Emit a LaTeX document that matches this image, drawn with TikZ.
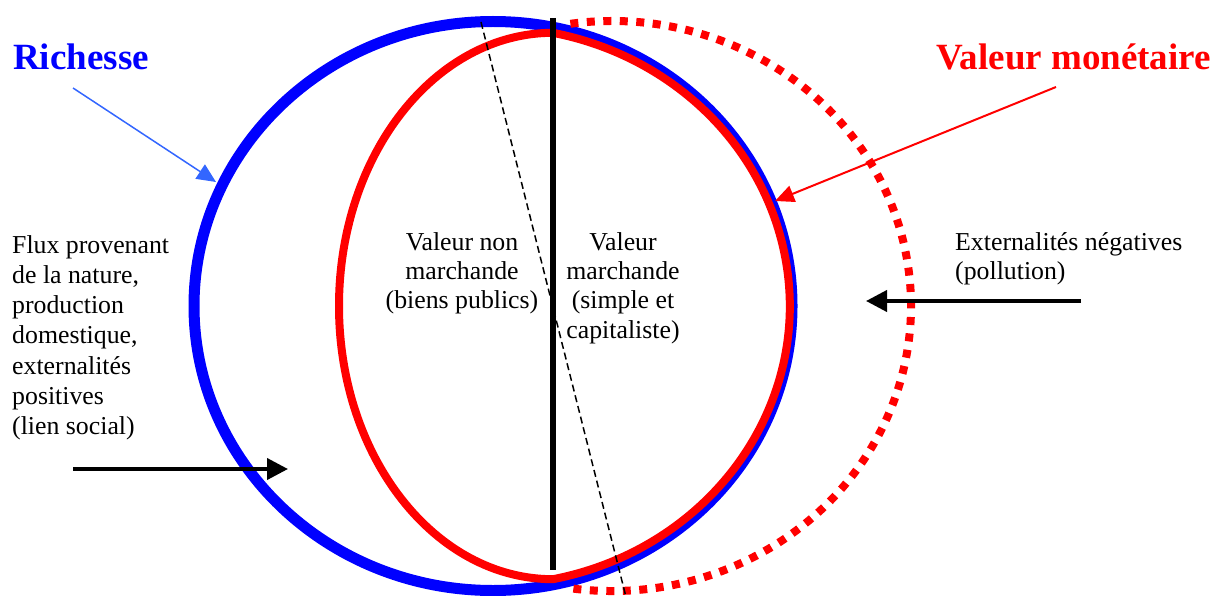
\documentclass[tikz,border=0pt]{standalone}
\usepackage{fontspec}
\setmainfont{Liberation Serif}
\usetikzlibrary{arrows.meta}
\definecolor{richblue}{HTML}{0000FF}
\definecolor{arrowblue}{HTML}{3366FF}
\definecolor{monred}{HTML}{FF0000}
\begin{document}
\begin{tikzpicture}[x=1pt,y=-1pt,
  bodyl/.style={font=\fontsize{25.8}{30.3}\selectfont, inner sep=0pt},
  bodyc/.style={font=\fontsize{25.8}{29.4}\selectfont, inner sep=0pt},
  titletext/.style={font=\fontsize{37}{44}\selectfont\bfseries, inner sep=0pt},
  thickarrow/.style={line width=4pt, -{Triangle[length=21pt,width=21pt]}},
]
\useasboundingbox (0,0) rectangle (1217,596);
% blue ellipse (Richesse)
\draw[richblue, line width=11pt] (493,306) ellipse [x radius=299, y radius=284.5];
% red dotted arc
\coordinate (dotstart) at (570.4,23.8);
\draw[monred, line width=8pt, dash pattern=on 8pt off 8.5pt]
  (dotstart) arc[start angle=262, end angle=458, x radius=299, y radius=285];
% red solid shape (valeur monetaire)
\coordinate (redtop) at (553,32.8);
\draw[monred, line width=8pt, line join=round]
  (redtop) arc[start angle=270, end angle=90, x radius=214, y radius=273.2]
  arc[start angle=78.3, end angle=-78.3, x radius=297, y radius=279] -- cycle;
% black vertical line
\coordinate (vtop) at (553,18);
\coordinate (vbot) at (553,570);
\draw[line width=5.5pt] (vtop) -- (vbot);
% dashed line
\coordinate (dtop) at (481,22);
\coordinate (dbot) at (626,597);
\draw[line width=1.5pt, dash pattern=on 7pt off 4pt] (dtop) -- (dbot);
% labels
\node[titletext, text=richblue, anchor=base west] (richesse) at (13,70) {Richesse};
\node[titletext, text=monred, anchor=base east] (valmon) at (1211,70) {Valeur monétaire};
\node[bodyl, anchor=base west] (flux) at (12,253)
  {\begin{tabular}[t]{@{}l@{}}Flux provenant\\de la nature,\\production\\domestique,\\externalités\\positives\\(lien social)\end{tabular}};
\node[bodyc, anchor=base] (nonmarch) at (462,250)
  {\begin{tabular}[t]{@{}c@{}}Valeur non\\marchande\\(biens publics)\end{tabular}};
\node[bodyc, anchor=base] (march) at (623,250)
  {\begin{tabular}[t]{@{}c@{}}Valeur\\marchande\\(simple et\\capitaliste)\end{tabular}};
\node[bodyc, anchor=base west] (extneg) at (955,250)
  {\begin{tabular}[t]{@{}l@{}}Externalités négatives\\(pollution)\end{tabular}};
% arrows
\coordinate (ba1) at (73,88);
\coordinate (ba2) at (216,182);
\draw[arrowblue, line width=1.5pt, -{Triangle[length=19pt,width=17pt]}] (ba1) -- (ba2);
\coordinate (ra1) at (1056,87);
\coordinate (ra2) at (775,201);
\draw[monred, line width=2pt, -{Triangle[length=19pt,width=17pt]}] (ra1) -- (ra2);
\coordinate (la1) at (73,469);
\coordinate (la2) at (288,469);
\draw[thickarrow] (la1) -- (la2);
\coordinate (ea1) at (1081,301);
\coordinate (ea2) at (866,301);
\draw[thickarrow] (ea1) -- (ea2);
\end{tikzpicture}
\end{document}
